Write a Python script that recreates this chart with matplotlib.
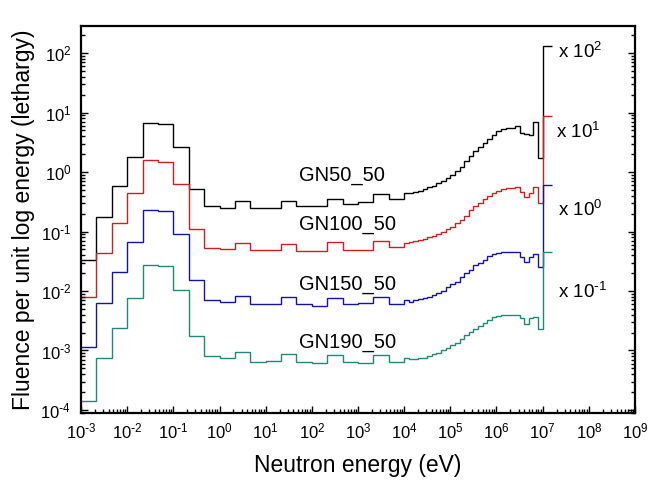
import numpy as np
import matplotlib
matplotlib.use('Agg')
import matplotlib.pyplot as plt
from matplotlib.ticker import LogLocator, NullFormatter, FuncFormatter

plt.rcParams['font.family'] = ['Liberation Sans', 'DejaVu Sans']
plt.rcParams['mathtext.default'] = 'regular'
plt.rcParams['axes.unicode_minus'] = False

# group structure: (low exponent, high exponent, groups per decade) + one top group
group_segments = [(-3, 4, 3), (4, 7, 10)]
top_edge = 1.6e7

# plotted (already scaled) spectra, one value per group
# thermal/epithermal part, 3 groups per decade 1e-3 .. 1e4
gn50_low = [0.033, 0.177, 0.59, 1.81, 6.6, 6.3, 2.6, 0.51, 0.27, 0.25, 0.33,
            0.245, 0.25, 0.33, 0.27, 0.27, 0.356, 0.29, 0.31, 0.42, 0.348]
gn100_low = [0.0078, 0.043, 0.137, 0.44, 1.57, 1.47, 0.62, 0.110, 0.052, 0.050, 0.063,
             0.048, 0.049, 0.062, 0.047, 0.047, 0.066, 0.049, 0.049, 0.070, 0.056]
gn150_low = [0.00116, 0.0064, 0.0206, 0.066, 0.23, 0.22, 0.090, 0.0153, 0.0071, 0.0066, 0.0083,
             0.0060, 0.0060, 0.0078, 0.0060, 0.0056, 0.0076, 0.0060, 0.0062, 0.0080, 0.00605]
gn190_low = [1.42e-4, 7.6e-4, 0.0024, 0.0075, 0.0274, 0.0264, 0.0104, 0.00175, 8.2e-4, 7.4e-4, 9.3e-4,
             6.5e-4, 6.7e-4, 8.6e-4, 6.5e-4, 6.2e-4, 8.4e-4, 6.5e-4, 6.2e-4, 8.4e-4, 6.5e-4]

# fast part, 10 groups per decade 1e4 .. 1e7, then the top group
gn50_fast = [0.44, 0.44, 0.46, 0.48, 0.51, 0.55, 0.59, 0.65, 0.71, 0.79,
             0.88, 1.04, 1.23, 1.53, 1.86, 2.23, 2.60, 3.03, 3.54, 4.24,
             4.83, 5.22, 5.42, 5.56, 5.93, 4.58, 4.31, 4.14, 7.0, 1.7, 130]
gn100_fast = [0.065, 0.067, 0.070, 0.072, 0.075, 0.080, 0.085, 0.091, 0.099, 0.109,
              0.12, 0.137, 0.156, 0.182, 0.23, 0.27, 0.30, 0.35, 0.40, 0.44,
              0.48, 0.52, 0.53, 0.53, 0.57, 0.47, 0.376, 0.44, 0.57, 0.305, 8.7]
gn150_fast = [0.0071, 0.0066, 0.0071, 0.0073, 0.0075, 0.0080, 0.0086, 0.0094, 0.0101, 0.0118,
              0.0131, 0.0144, 0.0174, 0.0203, 0.0225, 0.0274, 0.030, 0.033, 0.0387, 0.0413,
              0.043, 0.0447, 0.0447, 0.0447, 0.0447, 0.0377, 0.031, 0.0377, 0.042, 0.0256, 0.6]
gn190_fast = [7.4e-4, 7.3e-4, 7.3e-4, 7.6e-4, 7.6e-4, 8.0e-4, 8.6e-4, 9.2e-4, 1.02e-3, 1.09e-3,
              1.24e-3, 1.35e-3, 1.54e-3, 1.82e-3, 2.07e-3, 2.27e-3, 2.58e-3, 2.86e-3, 3.26e-3, 3.6e-3,
              3.8e-3, 3.9e-3, 4.0e-3, 3.9e-3, 4.0e-3, 3.5e-3, 2.79e-3, 3.5e-3, 3.7e-3, 2.27e-3, 0.046]

names = ['GN50_50', 'GN100_50', 'GN150_50', 'GN190_50']
scale_powers = [2, 1, 0, -1]
colors = ['black', '#cc2020', '#1414a0', '#23867a']


def pow_text(p):
    # superscript with a plain hyphen, like the original plot
    s = str(p).replace('-', r'\text{-}')
    return r'10$^{' + s + '}$'


# build group edges
edges = [10.0 ** group_segments[0][0]]
for lo, hi, n in group_segments:
    edges += list(np.logspace(lo, hi, (hi - lo) * n + 1)[1:])
edges.append(top_edge)
edges = np.array(edges)

spectra = [gn50_low + gn50_fast, gn100_low + gn100_fast,
           gn150_low + gn150_fast, gn190_low + gn190_fast]

fig = plt.figure(figsize=(6.62, 4.88), dpi=100)
ax = fig.add_axes([0.1224, 0.1537, 0.8368, 0.7930])

for vals, c in zip(spectra, colors):
    ax.stairs(vals, edges, baseline=None, color=c, lw=1.0)

ax.set_xscale('log')
ax.set_yscale('log')
ax.set_xlim(1e-3, 1e9)
ax.set_ylim(8.9e-5, 2.85e2)

fmt = FuncFormatter(lambda v, pos: pow_text(int(round(np.log10(v)))))
ax.xaxis.set_major_locator(LogLocator(base=10, numticks=20))
ax.xaxis.set_minor_locator(LogLocator(base=10, subs=np.arange(2, 10), numticks=20))
ax.xaxis.set_major_formatter(fmt)
ax.xaxis.set_minor_formatter(NullFormatter())
ax.yaxis.set_major_locator(LogLocator(base=10, numticks=20))
ax.yaxis.set_minor_locator(LogLocator(base=10, subs=np.arange(2, 10), numticks=20))
ax.yaxis.set_major_formatter(fmt)
ax.yaxis.set_minor_formatter(NullFormatter())

ax.tick_params(which='both', direction='in', top=False, right=True, width=1.0)
ax.tick_params(which='major', length=5, labelsize=12)
ax.tick_params(which='minor', length=3)
ax.tick_params(axis='x', which='major', pad=6)
ax.tick_params(axis='y', which='major', pad=7)
for s in ax.spines.values():
    s.set_linewidth(1.6)

ax.set_xlabel('Neutron energy (eV)', fontsize=16.5, labelpad=9)
ax.set_ylabel('Fluence per unit log energy (lethargy)', fontsize=16.5, labelpad=4)

# curve names
name_pos = [(52, 0.89), (52, 0.129), (52, 0.0131), (52, 0.00137)]
for (x, y), t in zip(name_pos, names):
    ax.text(x, y, t, fontsize=14.5, ha='left', va='center')

# scale factors
scale_pos = [(2.2e7, 105), (1.9e7, 4.8), (2.1e7, 0.23), (2.1e7, 0.0098)]
for (x, y), p in zip(scale_pos, scale_powers):
    ax.text(x, y, 'x ' + pow_text(p), fontsize=13.5, ha='left', va='center')

fig.savefig('out.png', dpi=100)
